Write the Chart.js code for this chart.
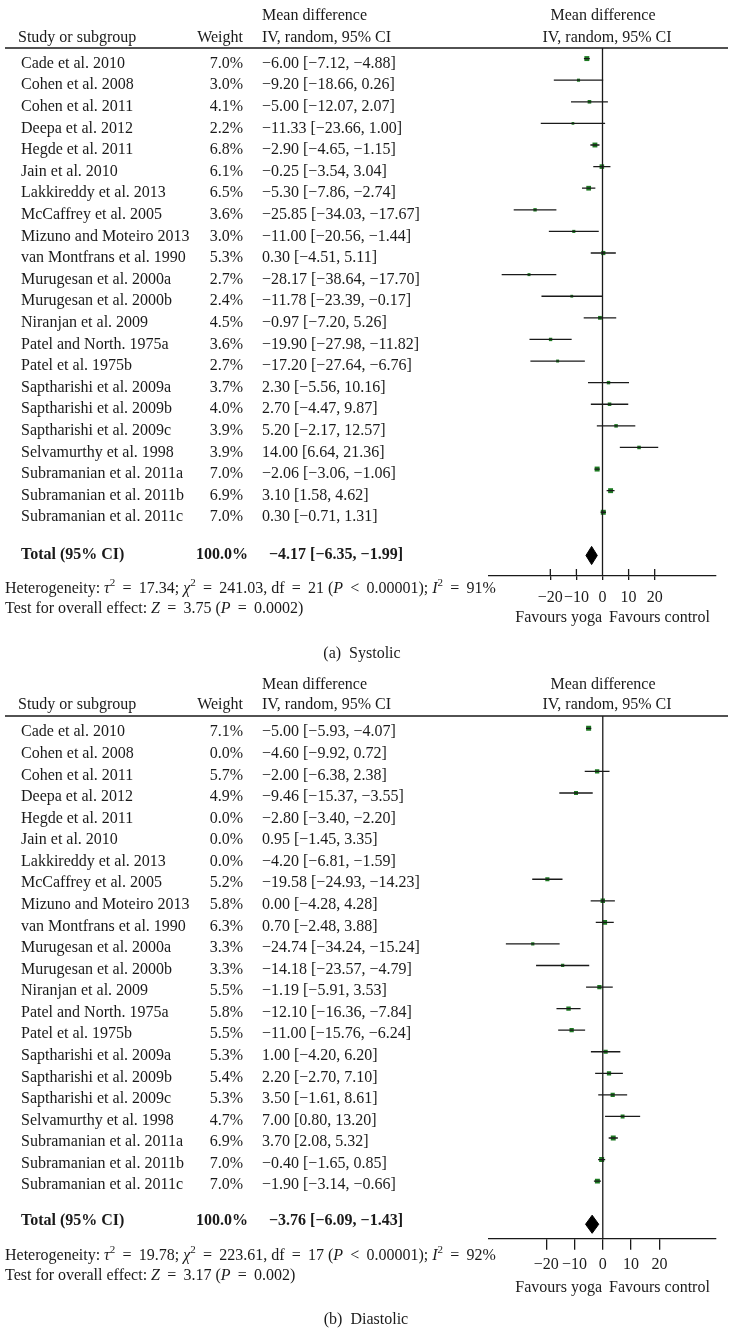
<!DOCTYPE html>
<html lang="en">
<head>
<meta charset="UTF-8">
<title>Forest plot - yoga and blood pressure</title>
<script src="https://cdn.jsdelivr.net/npm/chart.js"></script>
<style>
  html, body { margin: 0; padding: 0; background: #fff; }
  canvas { display: block; }
</style>
</head>
<body>
<canvas id="sysChart" width="735" height="668"></canvas>
<canvas id="diaChart" width="735" height="667"></canvas>
<script>
// Study list (same order in both panels)
const studies = [
  'Cade et al. 2010', 'Cohen et al. 2008', 'Cohen et al. 2011', 'Deepa et al. 2012',
  'Hegde et al. 2011', 'Jain et al. 2010', 'Lakkireddy et al. 2013', 'McCaffrey et al. 2005',
  'Mizuno and Moteiro 2013', 'van Montfrans et al. 1990', 'Murugesan et al. 2000a',
  'Murugesan et al. 2000b', 'Niranjan et al. 2009', 'Patel and North. 1975a', 'Patel et al. 1975b',
  'Saptharishi et al. 2009a', 'Saptharishi et al. 2009b', 'Saptharishi et al. 2009c',
  'Selvamurthy et al. 1998', 'Subramanian et al. 2011a', 'Subramanian et al. 2011b',
  'Subramanian et al. 2011c'
];

// (a) Systolic
const sysWeight = [7.0, 3.0, 4.1, 2.2, 6.8, 6.1, 6.5, 3.6, 3.0, 5.3, 2.7, 2.4, 4.5, 3.6, 2.7, 3.7, 4.0, 3.9, 3.9, 7.0, 6.9, 7.0];
const sysMean = [-6.00, -9.20, -5.00, -11.33, -2.90, -0.25, -5.30, -25.85, -11.00, 0.30, -28.17, -11.78, -0.97, -19.90, -17.20, 2.30, 2.70, 5.20, 14.00, -2.06, 3.10, 0.30];
const sysLower = [-7.12, -18.66, -12.07, -23.66, -4.65, -3.54, -7.86, -34.03, -20.56, -4.51, -38.64, -23.39, -7.20, -27.98, -27.64, -5.56, -4.47, -2.17, 6.64, -3.06, 1.58, -0.71];
const sysUpper = [-4.88, 0.26, 2.07, 1.00, -1.15, 3.04, -2.74, -17.67, -1.44, 5.11, -17.70, -0.17, 5.26, -11.82, -6.76, 10.16, 9.87, 12.57, 21.36, -1.06, 4.62, 1.31];
const sysTotal = [-4.17, -6.35, -1.99];
const sysStats = ['17.34', '241.03', '21', '0.00001', '91%', '3.75', '0.0002'];

// (b) Diastolic
const diaWeight = [7.1, 0.0, 5.7, 4.9, 0.0, 0.0, 0.0, 5.2, 5.8, 6.3, 3.3, 3.3, 5.5, 5.8, 5.5, 5.3, 5.4, 5.3, 4.7, 6.9, 7.0, 7.0];
const diaMean = [-5.00, -4.60, -2.00, -9.46, -2.80, 0.95, -4.20, -19.58, 0.00, 0.70, -24.74, -14.18, -1.19, -12.10, -11.00, 1.00, 2.20, 3.50, 7.00, 3.70, -0.40, -1.90];
const diaLower = [-5.93, -9.92, -6.38, -15.37, -3.40, -1.45, -6.81, -24.93, -4.28, -2.48, -34.24, -23.57, -5.91, -16.36, -15.76, -4.20, -2.70, -1.61, 0.80, 2.08, -1.65, -3.14];
const diaUpper = [-4.07, 0.72, 2.38, -3.55, -2.20, 3.35, -1.59, -14.23, 4.28, 3.88, -15.24, -4.79, 3.53, -7.84, -6.24, 6.20, 7.10, 8.61, 13.20, 5.32, 0.85, -0.66];
const diaTotal = [-3.76, -6.09, -1.43];
const diaStats = ['19.78', '223.61', '17', '0.00001', '92%', '3.17', '0.002'];

const tickValues = [-20, -10, 0, 10, 20];

const FONT = '"Liberation Serif", "DejaVu Serif", serif';
const INK = '#1a1a1a';
const GREEN = '#1d7a22';
const EQ = ' \u2009=\u2009 ';
const LT = ' \u2009<\u2009 ';

function fmt(v) { return (v < 0 ? '\u2212' : '') + Math.abs(v).toFixed(2); }
function ciText(m, l, u) { return fmt(m) + ' [' + fmt(l) + ', ' + fmt(u) + ']'; }

// text runs: '' plain, 'i' italic, 's' superscript
function drawRich(ctx, parts, x, y) {
  ctx.textAlign = 'left';
  parts.forEach(([t, f]) => {
    ctx.font = (f === 'i' ? 'italic ' : '') + (f === 's' ? '11px ' : '16px ') + FONT;
    ctx.fillText(t, x, f === 's' ? y - 6 : y);
    x += ctx.measureText(t).width;
  });
}

function forestChart(id, p) {
  const shown = studies.map((s, i) => i).filter(i => p.weight[i] > 0);
  const points = shown.map(i => ({ x: p.mean[i], y: i }));
  const ciPts = [];
  shown.forEach(i => ciPts.push({ x: p.lower[i], y: i }, { x: p.upper[i], y: i }, { x: NaN, y: i }));
  const [tm, tl, tu] = p.total;
  const ty = studies.length + 1;
  const diamond = [{ x: tl, y: ty }, { x: tm, y: ty - 0.42 }, { x: tu, y: ty }, { x: tm, y: ty + 0.42 }, { x: tl, y: ty }];
  const st = p.stats;

  const textPlugin = {
    id: 'forestText',
    afterDraw(chart) {
      const ctx = chart.ctx, a = chart.chartArea;
      const xs = chart.scales.x, ys = chart.scales.y;
      ctx.save();
      ctx.strokeStyle = INK;
      ctx.fillStyle = INK;
      ctx.lineWidth = 1.3;
      // header rule and line of no effect
      const x0 = xs.getPixelForValue(0);
      ctx.beginPath();
      ctx.moveTo(5, a.top); ctx.lineTo(728, a.top);
      ctx.moveTo(x0, a.top); ctx.lineTo(x0, a.bottom);
      // upper half of the axis ticks (the lower half is drawn by the scale)
      if (p.tickUp) {
        xs.ticks.forEach(t => {
          const tx = xs.getPixelForValue(t.value);
          ctx.moveTo(tx, a.bottom); ctx.lineTo(tx, a.bottom - p.tickUp);
        });
      }
      ctx.stroke();

      ctx.textBaseline = 'middle';
      ctx.font = '16px ' + FONT;
      ctx.textAlign = 'left';
      ctx.fillText('Mean difference', 262, p.hdrY1);
      ctx.fillText('Study or subgroup', 18, p.hdrY2);
      ctx.fillText('IV, random, 95% CI', 262, p.hdrY2);
      ctx.textAlign = 'right';
      ctx.fillText('Weight', 243, p.hdrY2);
      ctx.textAlign = 'center';
      ctx.fillText('Mean difference', 603, p.hdrY1);
      ctx.fillText('IV, random, 95% CI', 607, p.hdrY2);

      studies.forEach((s, i) => {
        const y = ys.getPixelForValue(i) + p.textDy;
        ctx.textAlign = 'left';
        ctx.fillText(s, 21, y);
        ctx.fillText(ciText(p.mean[i], p.lower[i], p.upper[i]), 262, y);
        ctx.textAlign = 'right';
        ctx.fillText(p.weight[i].toFixed(1) + '%', 243, y);
      });

      ctx.font = 'bold 16px ' + FONT;
      ctx.textAlign = 'left';
      ctx.fillText('Total (95% CI)', 21, p.totalY);
      ctx.fillText(ciText(tm, tl, tu), 269, p.totalY);
      ctx.textAlign = 'right';
      ctx.fillText('100.0%', 248, p.totalY);

      drawRich(ctx, [['Heterogeneity: ', ''], ['\u03c4', 'i'], ['2', 's'], [EQ + st[0] + '; ', ''],
        ['\u03c7', 'i'], ['2', 's'], [EQ + st[1] + ', df' + EQ + st[2] + ' (', ''], ['P', 'i'],
        [LT + st[3] + '); ', ''], ['I', 'i'], ['2', 's'], [EQ + st[4], '']], 5, p.hetY);
      drawRich(ctx, [['Test for overall effect: ', ''], ['Z', 'i'], [EQ + st[5] + ' (', ''], ['P', 'i'],
        [EQ + st[6] + ')', '']], 5, p.testY);

      ctx.font = '16px ' + FONT;
      ctx.textAlign = 'right';
      ctx.fillText('Favours yoga', 602, p.favY);
      ctx.textAlign = 'left';
      ctx.fillText('Favours control', 609, p.favY);
      ctx.textAlign = 'center';
      ctx.fillText(p.caption, p.capX, p.capY);
      ctx.restore();
    }
  };

  return new Chart(document.getElementById(id), {
    type: 'scatter',
    data: {
      datasets: [
        { data: ciPts, showLine: true, borderColor: INK, borderWidth: 1.3, pointRadius: 0, spanGaps: false, order: 0 },
        {
          data: points, pointStyle: 'rect', backgroundColor: GREEN, borderColor: GREEN, borderWidth: 0,
          pointRadius: shown.map(i => 1.2 + p.weight[i] * 0.33), order: 1
        },
        {
          data: diamond, showLine: true, fill: 'shape', backgroundColor: '#000', borderColor: '#000',
          borderWidth: 1, pointRadius: 0, tension: 0, order: 0
        }
      ]
    },
    options: {
      responsive: false,
      animation: false,
      events: [],
      layout: { padding: { left: 489, right: 19, top: 48, bottom: 0 } },
      plugins: { legend: { display: false }, tooltip: { enabled: false } },
      scales: {
        x: {
          type: 'linear',
          min: p.xMin,
          max: p.xMax,
          afterFit: s => { s.height = p.axisH; },
          afterBuildTicks: s => { s.ticks = tickValues.map(v => ({ value: v })); },
          grid: { drawOnChartArea: false, drawTicks: true, tickLength: p.tickLen, color: INK, lineWidth: 1.3 },
          border: { display: true, color: INK, width: 1.3 },
          ticks: {
            font: { family: FONT, size: 16 }, color: INK, padding: p.tickPad, maxRotation: 0, autoSkip: false,
            callback: v => (v < 0 ? '\u2212' + Math.abs(v) : '' + v)
          }
        },
        y: { type: 'linear', display: false, reverse: true, min: p.yMin, max: p.yMax }
      }
    },
    plugins: [textPlugin]
  });
}

document.addEventListener('DOMContentLoaded', function () {
  forestChart('sysChart', {
    weight: sysWeight, mean: sysMean, lower: sysLower, upper: sysUpper, total: sysTotal, stats: sysStats,
    xMin: -43.5, xMax: 43.5, yMin: -0.49, yMax: 23.95, axisH: 92, tickLen: 4, tickUp: 7, tickPad: 8,
    hdrY1: 16, hdrY2: 38, textDy: 5, totalY: 555, hetY: 589, testY: 609, favY: 618, capX: 362, capY: 654,
    caption: '(a)  Systolic'
  });
  forestChart('diaChart', {
    weight: diaWeight, mean: diaMean, lower: diaLower, upper: diaUpper, total: diaTotal, stats: diaStats,
    xMin: -40.2, xMax: 40, yMin: -0.57, yMax: 23.67, axisH: 96.3, tickLen: 11, tickUp: 0, tickPad: 5,
    hdrY1: 17, hdrY2: 37, textDy: 4, totalY: 553, hetY: 588, testY: 608, favY: 620, capX: 366, capY: 652,
    caption: '(b)  Diastolic'
  });
});
</script>
</body>
</html>
